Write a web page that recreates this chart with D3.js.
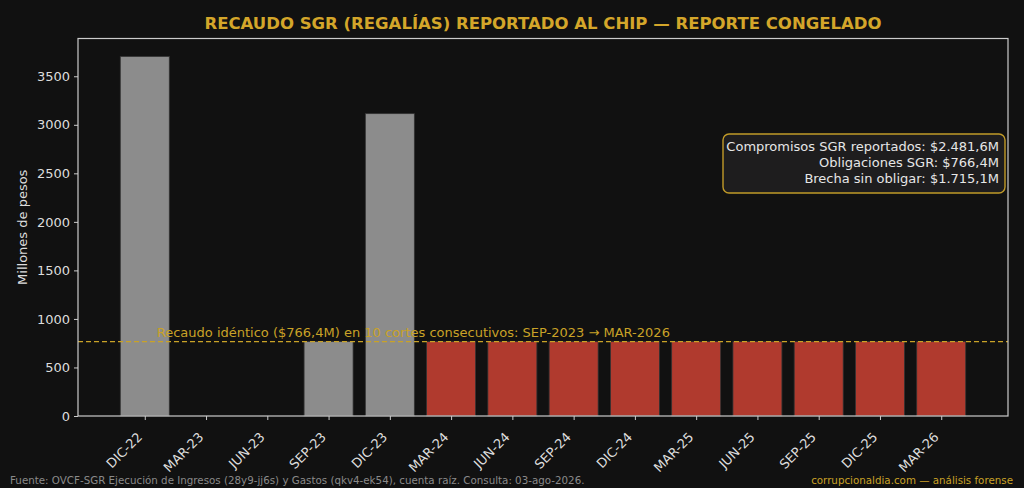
<!DOCTYPE html>
<html>
<head>
<meta charset="utf-8">
<script src="https://cdn.jsdelivr.net/npm/d3@7"></script>
<style>
  body { margin: 0; background: #111111; }
  svg { display: block; font-family: "DejaVu Sans", sans-serif; }
</style>
</head>
<body>
<svg id="chart"></svg>
<script>
// cortes trimestrales reportados al CHIP
const cortes = ["DIC-22", "MAR-23", "JUN-23", "SEP-23", "DIC-23", "MAR-24", "JUN-24",
  "SEP-24", "DIC-24", "MAR-25", "JUN-25", "SEP-25", "DIC-25", "MAR-26"]
const recaudo = [3704, 0, 0, 766.4, 3115, 766.4, 766.4, 766.4, 766.4, 766.4, 766.4, 766.4, 766.4, 766.4]
// los cortes congelados desde MAR-24 van en rojo
const congelado = [false, false, false, false, false, true, true, true, true, true, true, true, true, true]
const yTicks = [0, 500, 1000, 1500, 2000, 2500, 3000, 3500]
const valorRepetido = 766.4
const cajaLineas = [
  "Compromisos SGR reportados: $2.481,6M",
  "Obligaciones SGR: $766,4M",
  "Brecha sin obligar: $1.715,1M"
]

const W = 1024, H = 488
const m = { top: 38.5, right: 16, bottom: 72, left: 78 }
const gold = "#d4a62a"

const svg = d3.select("#chart").attr("width", W).attr("height", H)
svg.append("rect").attr("width", W).attr("height", H).attr("fill", "#111111")

const x = d3.scaleLinear()
  .domain([-1.09, cortes.length - 1 + 1.09])
  .range([m.left, W - m.right])
const y = d3.scaleLinear()
  .domain([0, d3.max(recaudo) * 1.05])
  .range([H - m.bottom, m.top])
const bw = x(0.8) - x(0)

const g = svg.append("g")

// barras
g.selectAll(".bar")
  .data(recaudo)
  .enter()
  .append("rect")
  .attr("class", "bar")
  .attr("x", (d, i) => x(i) - bw / 2)
  .attr("y", d => y(d))
  .attr("width", bw)
  .attr("height", d => y(0) - y(d))
  .attr("fill", (d, i) => congelado[i] ? "#b03a2e" : "#8c8c8c")
  .attr("stroke", "#333333")
  .attr("stroke-width", 0.8)
  .style("display", d => d > 0 ? null : "none")

// linea del valor repetido
g.append("line")
  .attr("x1", m.left).attr("x2", W - m.right)
  .attr("y1", y(valorRepetido)).attr("y2", y(valorRepetido))
  .attr("stroke", "#c9a227")
  .attr("stroke-width", 1.2)
  .attr("stroke-dasharray", "5,3")

g.append("text")
  .attr("x", x(0) + 12)
  .attr("y", y(valorRepetido) - 5)
  .attr("fill", "#c9a227")
  .style("font-size", "13px")
  .text("Recaudo idéntico ($766,4M) en 10 cortes consecutivos: SEP-2023 → MAR-2026")

// ejes
const yAxis = g.append("g")
  .attr("transform", `translate(${m.left},0)`)
  .call(d3.axisLeft(y).tickValues(yTicks).tickSize(4).tickPadding(4).tickFormat(d3.format("d")))
const xAxis = g.append("g")
  .attr("transform", `translate(0,${y(0)})`)
  .call(d3.axisBottom(x).tickValues(d3.range(cortes.length)).tickSize(4).tickFormat(i => cortes[i]))

;[yAxis, xAxis].forEach(a => {
  a.select(".domain").remove()
  a.selectAll("line").attr("stroke", "#cccccc")
  a.selectAll("text").attr("fill", "#dddddd").style("font-size", "13px")
    .style("font-family", "DejaVu Sans, sans-serif")
})
xAxis.selectAll("text")
  .attr("text-anchor", "end")
  .attr("dy", null).attr("y", 0)
  .attr("transform", "translate(-9,15) rotate(-45)")
  .attr("dominant-baseline", "hanging")

// marco
g.append("rect")
  .attr("x", m.left).attr("y", m.top)
  .attr("width", W - m.right - m.left).attr("height", y(0) - m.top)
  .attr("fill", "none").attr("stroke", "#cccccc").attr("stroke-width", 1.2)

// titulo eje y
svg.append("text")
  .attr("transform", `translate(27,${(m.top + y(0)) / 2}) rotate(-90)`)
  .attr("text-anchor", "middle")
  .attr("fill", "#dddddd")
  .style("font-size", "13px")
  .text("Millones de pesos")

// titulo
svg.append("text")
  .attr("x", (m.left + W - m.right) / 2)
  .attr("y", 29)
  .attr("text-anchor", "middle")
  .attr("fill", gold)
  .style("font-size", "16.5px").style("font-weight", "bold")
  .text("RECAUDO SGR (REGALÍAS) REPORTADO AL CHIP — REPORTE CONGELADO")

// caja de compromisos
const caja = svg.append("g")
caja.append("rect")
  .attr("x", 723).attr("y", 134)
  .attr("width", 282).attr("height", 59)
  .attr("rx", 6)
  .attr("fill", "#1e1d1e")
  .attr("stroke", "#c09a28").attr("stroke-width", 1.4)
caja.selectAll("text")
  .data(cajaLineas)
  .enter()
  .append("text")
  .attr("x", 999)
  .attr("y", (d, i) => 151 + i * 16)
  .attr("text-anchor", "end")
  .attr("fill", "#e6e6e6")
  .style("font-size", "13px")
  .text(d => d)

// pie
svg.append("text")
  .attr("x", 10).attr("y", 484)
  .attr("fill", "#8a8a8a")
  .style("font-size", "10.3px")
  .text("Fuente: OVCF-SGR Ejecución de Ingresos (28y9-jj6s) y Gastos (qkv4-ek54), cuenta raíz. Consulta: 03-ago-2026.")
svg.append("text")
  .attr("x", 1013).attr("y", 484)
  .attr("text-anchor", "end")
  .attr("fill", "#c9a227")
  .style("font-size", "10.3px")
  .text("corrupcionaldia.com — análisis forense")
</script>
</body>
</html>
